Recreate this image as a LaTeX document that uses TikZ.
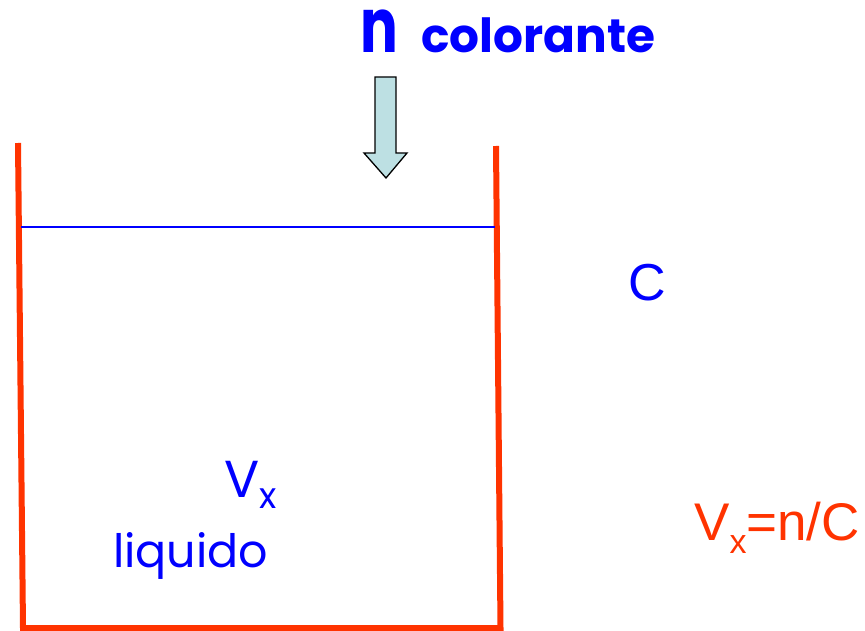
\documentclass[tikz,border=0pt]{standalone}
\usepackage{fontspec}
\setmainfont{Liberation Sans}
\newfontfamily\comicfont{Poppins}
\definecolor{wallred}{RGB}{255,51,0}
\definecolor{arrowfill}{RGB}{189,224,227}
\definecolor{txtblue}{RGB}{0,0,255}
\tikzset{
  wall/.style={draw=wallred, line width=6pt, line join=miter},
  level/.style={draw=txtblue, line width=1.5pt},
  bigarrow/.style={draw=black, fill=arrowfill, line width=1.3pt, line join=miter},
  lbl/.style={inner sep=0pt, anchor=base west},
}
\begin{document}
\begin{tikzpicture}[x=1pt, y=-1pt]
\useasboundingbox (0,0) rectangle (865,631);
% container
\draw[wall] (496,146) -- (500.5,628) -- (23,628) -- (18,143);
% liquid level
\draw[level] (21,227) -- (495,227);
% arrow
\draw[bigarrow] (375,77) -- (396,77) -- (396,153) -- (407,153) -- (386,178) -- (364,153) -- (375,153) -- cycle;
% title
\node[lbl, text=txtblue, font=\comicfont\bfseries\fontsize{56}{56}\selectfont] (n) at (360,53) {\scalebox{1}[1.35]{n}};
\node[lbl, text=txtblue, font=\comicfont\bfseries\fontsize{47}{47}\selectfont] (col) at (421,53) {colorante};
% labels in liquid
\node[lbl, text=txtblue, font=\comicfont\fontsize{52}{52}\selectfont] (vx) at (224,497) {V\raisebox{-11pt}{\fontsize{36}{36}\selectfont x}};
\node[lbl, text=txtblue, font=\comicfont\fontsize{46}{46}\selectfont] (liq) at (113,567) {liquido};
% right labels
\node[lbl, text=txtblue, font=\fontsize{52}{52}\selectfont] (c) at (628,300) {C};
\node[lbl, text=wallred, font=\fontsize{53}{53}\selectfont] (eq) at (694,540) {V\raisebox{-13pt}{\fontsize{34}{34}\selectfont x}=n/C};
\end{tikzpicture}
\end{document}
